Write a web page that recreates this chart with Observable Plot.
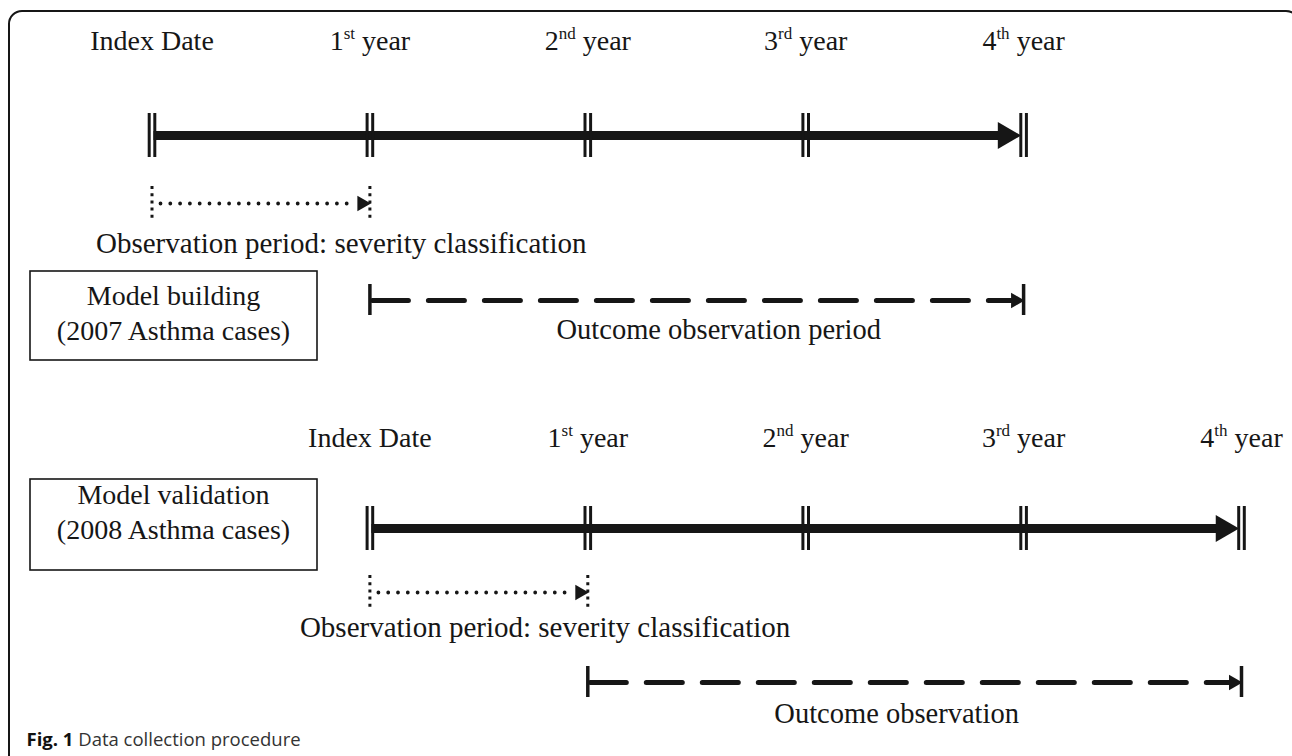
<!DOCTYPE html>
<html><head><meta charset="utf-8">
<script src="https://cdn.jsdelivr.net/npm/d3@7"></script>
<script src="https://cdn.jsdelivr.net/npm/@observablehq/plot@0.6"></script>
<style>html,body{margin:0;padding:0;background:#fff;overflow:hidden}</style>
</head><body><div id="chart"></div>
<script>
// ---------- data ----------
const cohorts = ["Model building", "Model validation"];
const cohortCases = ["(2007 Asthma cases)", "(2008 Asthma cases)"];
const indexYears = [2007, 2008];
const followUpYears = [0, 1, 2, 3, 4];
const ordinalSuffixes = ["st", "nd", "rd", "th"];
const severityYears = 1;
const severityLabel = "Observation period: severity classification";
const outcomeLabels = ["Outcome observation period", "Outcome observation"];
const captionBold = "Fig. 1";
const captionText = "Data collection procedure";

// ---------- layout (pixels) ----------
const W = 1292, H = 756;
const rows = [
  {label: 41, line: 135, dot: 203, obs: 243, obsDx: -56, dash: 300, outcome: 329, outcomeDx: 22, box: [271, 360], boxText: [296, 331]},
  {label: 438, line: 528, dot: 592, obs: 627, obsDx: -70, dash: 682, outcome: 713, outcomeDx: -18, box: [479, 570], boxText: [495, 530]}
];
const boxX = [30, 317];
const frameBox = {x1: 9, x2: 1299, y1: 11, y2: 820};
const ink = "#161616";
const serif = "Liberation Serif, Times New Roman, serif";

const xScaleOpts = {domain: [2007, 2012], range: [151.5, 1241]};
const xs = Plot.scale({x: xScaleOpts});

// ---------- derived tables ----------
const milestones = [];
cohorts.forEach((c, i) => followUpYears.forEach(k => {
  milestones.push({
    cohort: i, x: indexYears[i] + k, y: rows[i].line, labelY: rows[i].label,
    label: k === 0 ? "Index Date" : `${k}^${ordinalSuffixes[k - 1]} year`
  });
}));
const lastYear = followUpYears[followUpYears.length - 1];
const timelines = cohorts.map((c, i) => ({x1: indexYears[i], x2: indexYears[i] + lastYear, y: rows[i].line}));
const severity = cohorts.map((c, i) => ({cohort: i, x1: indexYears[i], x2: indexYears[i] + severityYears, y: rows[i].dot, ty: rows[i].obs}));
const outcome = cohorts.map((c, i) => ({
  x1: indexYears[i] + severityYears, x2: indexYears[i] + lastYear,
  y: rows[i].dash, ty: rows[i].outcome, label: outcomeLabels[i]
}));
const boxes = cohorts.map((c, i) => ({
  x1: xs.invert(boxX[0]), x2: xs.invert(boxX[1]), y1: rows[i].box[0], y2: rows[i].box[1],
  cx: xs.invert((boxX[0] + boxX[1]) / 2 - 0.5)
}));
const boxTexts = [];
cohorts.forEach((c, i) => {
  boxTexts.push({x: boxes[i].cx, y: rows[i].boxText[0], text: c});
  boxTexts.push({x: boxes[i].cx, y: rows[i].boxText[1], text: cohortCases[i]});
});
const ends = [];
severity.forEach(d => { ends.push({kind: "dot", x: d.x1, y: d.y}); ends.push({kind: "dot", x: d.x2, y: d.y}); });
outcome.forEach(d => { ends.push({kind: "dash", x: d.x1, y: d.y}); ends.push({kind: "dash", x: d.x2, y: d.y}); });

const severityTextMarks = severity.map((d, i) => Plot.text([d], {
  x: "x1", y: "ty", text: () => severityLabel, textAnchor: "start", dx: rows[i].obsDx,
  fontSize: 29, fontFamily: serif, fill: ink
}));
const outcomeTextMarks = outcome.map((d, i) => Plot.text([d], {
  x: d => (d.x1 + d.x2) / 2, y: "ty", text: "label", dx: rows[i].outcomeDx,
  fontSize: 28.5, fontFamily: serif, fill: ink
}));

const chart = Plot.plot({
  width: W, height: H,
  margin: 0,
  x: {...xScaleOpts, axis: null},
  y: {domain: [0, H], range: [0, H], axis: null},
  style: {background: "#fff"},
  marks: [
    // outer frame
    Plot.rect([frameBox], {x1: d => xs.invert(d.x1), x2: d => xs.invert(d.x2), y1: "y1", y2: "y2",
      rx: 13, fill: "none", stroke: ink, strokeWidth: 2}),
    // cohort boxes
    Plot.rect(boxes, {x1: "x1", x2: "x2", y1: "y1", y2: "y2", fill: "none", stroke: ink, strokeWidth: 1.6}),
    Plot.text(boxTexts, {x: "x", y: "y", text: "text", fontSize: 28, fontFamily: serif, fill: ink}),
    // main timelines
    Plot.ruleY(timelines, {x1: "x1", x2: "x2", y: "y", stroke: ink, strokeWidth: 9, insetLeft: 2, insetRight: 22}),
    Plot.dot(timelines, {x: "x2", y: "y", symbol: "triangle", rotate: 90, r: 10, fill: ink, stroke: "none", dx: -18}),
    Plot.ruleX(milestones, {x: "x", y1: d => d.y - 22, y2: d => d.y + 22, stroke: ink, strokeWidth: 3, dx: -2.8}),
    Plot.ruleX(milestones, {x: "x", y1: d => d.y - 22, y2: d => d.y + 22, stroke: ink, strokeWidth: 3, dx: 2.8}),
    Plot.text(milestones, {x: "x", y: "labelY", text: "label", fontSize: 28, fontFamily: serif, fill: ink}),
    // severity (dotted) period
    Plot.ruleY(severity, {x1: "x1", x2: "x2", y: "y", stroke: ink, strokeWidth: 3.8, strokeLinecap: "round",
      strokeDasharray: "0,9.8", insetLeft: 9, insetRight: 16}),
    Plot.dot(severity, {x: "x2", y: "y", symbol: "triangle", rotate: 90, r: 5.8, fill: ink, stroke: "none", dx: -8}),
    Plot.ruleX(ends.filter(d => d.kind === "dot"), {x: "x", y1: d => d.y - 17, y2: d => d.y + 15,
      stroke: ink, strokeWidth: 3, strokeDasharray: "3,4.2"}),
    ...severityTextMarks,
    // outcome (dashed) period
    Plot.ruleY(outcome, {x1: "x1", x2: "x2", y: "y", stroke: ink, strokeWidth: 5, strokeLinecap: "round",
      strokeDasharray: "36,20", insetLeft: 3, insetRight: 12}),
    Plot.dot(outcome, {x: "x2", y: "y", symbol: "triangle", rotate: 90, r: 5.8, fill: ink, stroke: "none", dx: -8}),
    Plot.ruleX(ends.filter(d => d.kind === "dash"), {x: "x", y1: d => d.y - 16, y2: d => d.y + 15,
      stroke: ink, strokeWidth: 3.5}),
    ...outcomeTextMarks,
    // caption
    Plot.text([`${captionBold} ${captionText}`], {x: xs.invert(26), y: 740, text: d => d, textAnchor: "start",
      fontSize: 18.5, fontFamily: "Open Sans, sans-serif", fill: "#333"})
  ]
});
document.getElementById("chart").appendChild(chart);

// superscripts and bold caption prefix
const NS = "http://www.w3.org/2000/svg";
chart.querySelectorAll("text").forEach(t => {
  const s = t.textContent;
  const m = s.match(/^(\d+)\^([a-z]+)(.*)$/);
  if (m) {
    t.textContent = "";
    const a = document.createElementNS(NS, "tspan"); a.textContent = m[1];
    const b = document.createElementNS(NS, "tspan"); b.textContent = m[2];
    b.setAttribute("font-size", "17"); b.setAttribute("dy", "-11");
    const c = document.createElementNS(NS, "tspan"); c.textContent = m[3]; c.setAttribute("dy", "11");
    t.append(a, b, c);
  } else if (s.startsWith(captionBold + " ")) {
    t.textContent = "";
    const a = document.createElementNS(NS, "tspan"); a.textContent = captionBold;
    a.setAttribute("font-weight", "bold"); a.setAttribute("fill", "#111");
    const b = document.createElementNS(NS, "tspan"); b.textContent = s.slice(captionBold.length);
    t.append(a, b);
  }
});
</script></body></html>
